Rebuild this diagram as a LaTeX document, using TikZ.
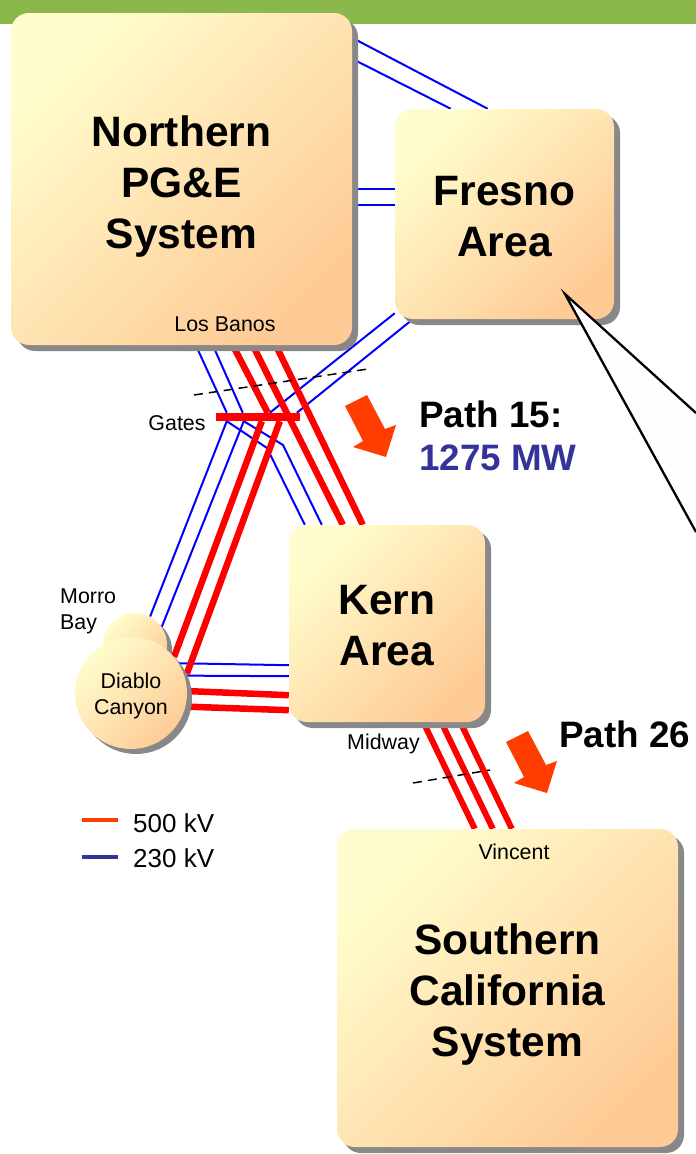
\documentclass[tikz,border=0pt]{standalone}
\usepackage{fontspec}
\setmainfont{Liberation Sans}
\usetikzlibrary{positioning,calc,shadows,backgrounds}
\definecolor{boxlight}{RGB}{255,253,205}
\definecolor{boxdark}{RGB}{254,203,150}
\definecolor{shadowgray}{RGB}{136,136,136}
\definecolor{barcolor}{RGB}{139,184,74}
\definecolor{linkblue}{RGB}{0,0,255}
\definecolor{linkred}{RGB}{255,0,0}
\definecolor{flowred}{RGB}{255,61,0}
\definecolor{navy}{RGB}{51,51,153}
\definecolor{calloutfill}{RGB}{254,254,254}
\newcommand{\flowarrow}[2]{\fill[flowred, shift={(#1,#2)}] (0,0) -- (22,-11) -- (40,23) -- (51,19) -- (41,51) -- (8,41) -- (18,35) -- cycle;}
\newcommand{\firstline}[1]{\rule{0pt}{#1}}

\begin{document}
\begin{tikzpicture}[x=1pt, y=-1pt,
    area/.style={rounded corners=18pt, inner sep=0pt, align=center, top color=boxlight, bottom color=boxdark, shading angle=45,
      drop shadow={shadow xshift=6pt, shadow yshift=-6pt, fill=shadowgray, opacity=1},
      font=\fontsize{42.5}{51}\selectfont\bfseries},
    plant/.style={circle, inner sep=0pt, top color=boxlight, bottom color=boxdark, shading angle=45, align=center,
      drop shadow={shadow xshift=5pt, shadow yshift=-5pt, fill=shadowgray, opacity=1},
      font=\fontsize{21.4}{26}\selectfont},
    place/.style={inner sep=0pt, align=left, font=\fontsize{21.4}{26}\selectfont},
    pathlabel/.style={inner sep=0pt, anchor=west, font=\fontsize{36.8}{44}\selectfont\bfseries},
    legendtext/.style={inner sep=0pt, anchor=west, font=\fontsize{26}{30}\selectfont},
    kv230/.style={draw=linkblue, line width=2pt},
    kv500/.style={draw=linkred, line width=6.5pt},
    cut/.style={draw=black, line width=1.5pt, dash pattern=on 9pt off 6pt}]
\useasboundingbox (0,0) rectangle (696,1154);

% areas
\node[area, minimum width=341pt, minimum height=332pt] (north) at (181.5,179) {\firstline{46pt}Northern\\PG\&E\\System};
\node[area, minimum width=219pt, minimum height=210pt] (fresno) at (504.5,214) {\firstline{35pt}Fresno\\Area};
\node[area, minimum width=196pt, minimum height=197pt] (kern) at (387,623.5) {\firstline{34pt}Kern\\Area};
\node[area, minimum width=341pt, minimum height=318pt] (south) at (507.5,988) {\firstline{44pt}Southern\\California\\System};

% plants
\node[plant, minimum size=64pt] (morro) at (135,645) {};
\node[plant, minimum size=112pt] (diablo) at (131,693) {\firstline{22pt}Diablo\\Canyon};
\node[place, anchor=north west] (morrolabel) at (60,589) {Morro\\Bay};

% substation labels
\node[place] (losbanos) at (225,324) {Los Banos};
\node[place] (gateslabel) at (177,423) {Gates};
\node[place] (midway) at (383.5,744) {Midway};
\node[place] (vincent) at (514,852) {Vincent};

\node[fill=linkred, inner sep=0pt, minimum width=84pt, minimum height=8pt] (bus) at (258,417) {};

\coordinate (bendA) at (267,448);
\coordinate (bendB) at (283,445);
\coordinate (cutA) at (194,395);
\coordinate (cutB) at (368,369);
\coordinate (cutC) at (413,783);
\coordinate (cutD) at (490,770);

\begin{scope}[on background layer]
\fill[barcolor] (0,0) rectangle (696,24);
% 230 kV
\draw[kv230] ([yshift=-25pt]north.north east) -- ([xshift=93pt]fresno.north west);
\draw[kv230] ([yshift=-46pt]north.north east) -- ([xshift=56pt]fresno.north west);
\draw[kv230] ([yshift=-9.5pt]north.east) -- ([yshift=25.5pt]fresno.west);
\draw[kv230] ([yshift=-26pt]north.east) -- ([yshift=9pt]fresno.west);
\draw[kv230] ([yshift=6pt]fresno.south west) -- ([xshift=54pt]bus.north west);
\draw[kv230] ([xshift=18pt]fresno.south west) -- ([xshift=81pt]bus.north west);
\draw[kv230] ([xshift=185pt]north.south west) -- ([xshift=11pt]bus.north west);
\draw[kv230] ([xshift=202pt]north.south west) -- ([xshift=27pt]bus.north west);
\draw[kv230] ([xshift=11pt]bus.south west) -- (morro.62);
\draw[kv230] ([xshift=28pt]bus.south west) -- (morro.34);
\draw[kv230] ([xshift=11pt]bus.south west) -- (bendA) -- ([xshift=16pt]kern.north west);
\draw[kv230] ([xshift=28pt]bus.south west) -- (bendB) -- ([xshift=33pt]kern.north west);
\draw[kv230] (diablo.32) -- ([yshift=57pt]kern.south west);
\draw[kv230] (diablo.18) -- ([yshift=46pt]kern.south west);
% 500 kV
\draw[kv500] ([xshift=222pt]north.south west) -- ([xshift=52pt]bus.north west);
\draw[kv500] ([xshift=242pt]north.south west) -- ([xshift=54pt]kern.north west);
\draw[kv500] ([xshift=265pt]north.south west) -- ([xshift=74pt]kern.north west);
\draw[kv500] ([xshift=46pt]bus.south west) -- (diablo.40);
\draw[kv500] ([xshift=64pt]bus.south west) -- ([xshift=3pt]diablo.20);
\draw[kv500] (diablo.2) -- ([yshift=27pt]kern.south west);
\draw[kv500] (diablo.-14) -- ([yshift=12pt]kern.south west);
\draw[kv500, line width=6pt] ([xshift=134.5pt]kern.south west) -- ([xshift=138pt]south.north west);
\draw[kv500, line width=6pt] ([xshift=152.5pt]kern.south west) -- ([xshift=156pt]south.north west);
\draw[kv500, line width=6pt] ([xshift=171.5pt]kern.south west) -- ([xshift=175pt]south.north west);
\end{scope}

\draw[cut] (cutA) -- (cutB);
\draw[cut] (cutC) -- (cutD);

% flows
\flowarrow{345}{406}
\flowarrow{506}{742}
\node[pathlabel] (path15) at (419,414) {Path 15:};
\node[pathlabel] (mw) at (419,458) {\textcolor{navy}{1275 MW}};
\node[pathlabel] (path26) at (559,734) {Path 26};

% callout
\coordinate (tip) at (565,294);
\coordinate (calloutA) at (696,413);
\coordinate (calloutB) at (696,532);
\path[fill=calloutfill, draw=black, line width=2.3pt] (calloutA) -- (tip) -- (calloutB);

% legend
\node[legendtext] (leg500) at (133,823.5) {500 kV};
\node[legendtext] (leg230) at (133,858.5) {230 kV};
\draw[flowred, line width=4pt] ([xshift=-15pt, yshift=3.5pt]leg500.west) -- ++(-36,0);
\draw[navy, line width=4pt] ([xshift=-15pt, yshift=1.5pt]leg230.west) -- ++(-36,0);
\end{tikzpicture}
\end{document}
